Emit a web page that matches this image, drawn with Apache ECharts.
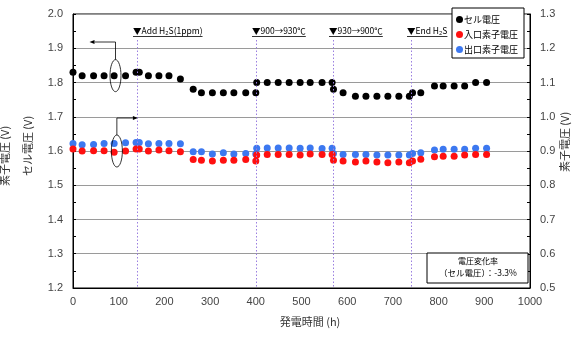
<!DOCTYPE html>
<html><head><meta charset="utf-8">
<script src="https://cdn.jsdelivr.net/npm/echarts@6/dist/echarts.min.js"></script>
<style>html,body{margin:0;padding:0;background:#fff}#c{width:572px;height:344px}</style>
</head><body><div id="c"></div>
<script>
// ---- data ----
const hours = [0,20,45,68,90,115,138,145,165,188,210,235,
  263,281,305,329,352,378,400,
  402,425,449,473,497,519,545,567,
  570,591,618,641,665,689,713,736,
  743,761,
  791,810,834,857,881,905];
const cellV = [1.83,1.82,1.82,1.82,1.82,1.82,1.83,1.83,1.82,1.82,1.82,1.81,
  1.78,1.77,1.77,1.77,1.77,1.77,1.77,
  1.80,1.80,1.80,1.80,1.80,1.80,1.80,1.80,
  1.78,1.77,1.76,1.76,1.76,1.76,1.76,1.76,
  1.77,1.77,
  1.79,1.79,1.79,1.79,1.80,1.80];
const outletV = [0.922,0.918,0.919,0.922,0.922,0.924,0.925,0.925,0.921,0.922,0.922,0.921,
  0.898,0.898,0.891,0.895,0.891,0.893,0.891,
  0.908,0.909,0.909,0.909,0.908,0.909,0.907,0.908,
  0.893,0.890,0.890,0.890,0.888,0.888,0.888,0.888,
  0.893,0.895,
  0.903,0.905,0.905,0.905,0.908,0.908];
const inletV = [0.906,0.900,0.901,0.901,0.896,0.900,0.906,0.906,0.900,0.903,0.901,0.898,
  0.875,0.873,0.871,0.873,0.873,0.875,0.871,
  0.888,0.890,0.890,0.890,0.888,0.891,0.890,0.890,
  0.873,0.871,0.868,0.871,0.868,0.866,0.868,0.866,
  0.871,0.876,
  0.883,0.885,0.885,0.888,0.890,0.890];
const seriesNames = ['セル電圧','入口素子電圧','出口素子電圧'];
const markerHours = [140,400,570,740];
const markerLabels = ['▼Add H₂S(1ppm)','▼900→930℃','▼930→900℃','▼End H₂S'];
const xRange = [0,1000,100];
const leftRange = [1.2,2.0,0.1];
const rightRange = [0.5,1.3,0.1];
const noteLines = ['電圧変化率','（セル電圧）：-3.3%'];

const CJK = '"Noto Sans CJK JP", sans-serif';
const NUM = '"Liberation Sans", Arial, sans-serif';
const chart = echarts.init(document.getElementById('c'), null, {renderer:'canvas'});

const yAxisCommon = {
  type:'value', interval:0.1,
  axisLine:{show:true, lineStyle:{color:'#000', width:1}},
  axisTick:{show:true, inside:true, length:3, lineStyle:{color:'#000'}},
  minorTick:{show:true, splitNumber:2, length:3, lineStyle:{color:'#000'}},
  axisLabel:{color:'#444', fontSize:11, fontFamily:NUM, margin:10, formatter:v=>v.toFixed(1)},
};
const dotStyle = c=>({color:c, opacity:1});
chart.setOption({
  animation:false,
  backgroundColor:'#fff',
  grid:{left:73, right:42, top:14, bottom:56, show:true, borderColor:'#000', borderWidth:1, containLabel:false},
  legend:{
    data:seriesNames, orient:'vertical', left:452, top:8,
    backgroundColor:'#fff', borderColor:'#000', borderWidth:1, padding:[4,6,1,4],
    itemGap:0, itemWidth:7, itemHeight:7, icon:'circle',
    textStyle:{fontSize:9, fontFamily:CJK, color:'#000', lineHeight:15, padding:[0,0,0,-4]},
    z:10
  },
  xAxis:{type:'value', min:xRange[0], max:xRange[1], interval:xRange[2],
    axisLine:{show:true, lineStyle:{color:'#000'}}, axisTick:{show:false},
    splitLine:{show:false},
    axisLabel:{color:'#444', fontSize:11, fontFamily:NUM, margin:8, formatter:v=>v.toFixed(0), showMaxLabel:false}},
  yAxis:[
    Object.assign({}, yAxisCommon, {min:leftRange[0], max:leftRange[1], position:'left',
      splitLine:{show:true, lineStyle:{color:'#9a9a9a', width:1}}}),
    Object.assign({}, yAxisCommon, {min:rightRange[0], max:rightRange[1], position:'right',
      splitLine:{show:false}})
  ],
  series:[
    {name:seriesNames[0], type:'scatter', yAxisIndex:0, symbolSize:7, itemStyle:dotStyle('#000'),
     data:hours.map((h,i)=>[h,cellV[i]])},
    {name:seriesNames[2], type:'scatter', yAxisIndex:1, symbolSize:7, itemStyle:dotStyle('#3c78f0'),
     data:hours.map((h,i)=>[h,outletV[i]])},
    {name:seriesNames[1], type:'scatter', yAxisIndex:1, symbolSize:7, itemStyle:dotStyle('#ff1010'),
     data:hours.map((h,i)=>[h,inletV[i]])}
  ]
});

// ---- annotations positioned through the axes ----
const px = (x,y,a)=>chart.convertToPixel({xAxisIndex:0, yAxisIndex:a}, [x,y]);
const ctx = document.createElement('canvas').getContext('2d');
const annFont = '8.5px ' + CJK;
ctx.font = annFont;
const plotTop = px(0,leftRange[1],0)[1];
const plotBottom = px(0,leftRange[0],0)[1];
const plotRight = px(xRange[1],leftRange[0],0)[0];
const g = [];
// last x tick label (drawn here so it is not dropped by overlap handling)
g.push({type:'text', x:plotRight, y:plotBottom+8, style:{text:String(xRange[1]), font:'11px '+NUM, fill:'#444', textAlign:'center', align:'center', textVerticalAlign:'top', verticalAlign:'top'}, z:20});
markerHours.forEach((h,i)=>{
  const lx = Math.round(px(h,leftRange[1],0)[0]) + 0.5;
  g.push({type:'line', shape:{x1:lx, y1:px(h,1.924,0)[1], x2:lx, y2:plotBottom}, style:{stroke:'#9a7ee0', lineWidth:1, lineDash:[1.5,2]}, z:5, silent:true});
  const x = lx - 4.5;
  const w = ctx.measureText(markerLabels[i]).width;
  g.push({type:'text', x:x, y:plotTop+17, style:{text:markerLabels[i], font:annFont, fill:'#000', textVerticalAlign:'middle', verticalAlign:'middle'}, z:20});
  g.push({type:'line', shape:{x1:x, y1:plotTop+22.5, x2:x+w, y2:plotTop+22.5}, style:{stroke:'#000', lineWidth:0.8}, z:20});
});
// ellipse + arrow to left axis
const e1 = px(93,1.82,0);
g.push({type:'ellipse', shape:{cx:e1[0], cy:e1[1], rx:5.5, ry:16}, style:{fill:'none', stroke:'#000', lineWidth:0.8}, z:20});
g.push({type:'polyline', shape:{points:[[e1[0],e1[1]-16],[e1[0],plotTop+28],[e1[0]-21,plotTop+28]]}, style:{fill:'none', stroke:'#000', lineWidth:0.8}, z:20});
g.push({type:'polygon', shape:{points:[[e1[0]-26,plotTop+28],[e1[0]-21,plotTop+26],[e1[0]-21,plotTop+30]]}, style:{fill:'#000'}, z:20});
// ellipse + arrow to right axis
const e2 = px(96,0.90,1);
g.push({type:'ellipse', shape:{cx:e2[0], cy:e2[1], rx:5.5, ry:16}, style:{fill:'none', stroke:'#000', lineWidth:0.8}, z:20});
g.push({type:'polyline', shape:{points:[[e2[0],e2[1]-16],[e2[0],e2[1]-33],[e2[0]+16,e2[1]-33]]}, style:{fill:'none', stroke:'#000', lineWidth:0.8}, z:20});
g.push({type:'polygon', shape:{points:[[e2[0]+21,e2[1]-33],[e2[0]+16,e2[1]-35],[e2[0]+16,e2[1]-31]]}, style:{fill:'#000'}, z:20});
// note box
g.push({type:'rect', shape:{x:plotRight-103, y:plotBottom-35, width:101, height:30}, style:{fill:'#fff', stroke:'#000', lineWidth:1}, z:20});
g.push({type:'text', x:plotRight-52, y:plotBottom-27, style:{text:noteLines[0], font:'8px '+CJK, fill:'#000', textAlign:'center', align:'center', textVerticalAlign:'middle', verticalAlign:'middle'}, z:21});
g.push({type:'text', x:plotRight-52, y:plotBottom-15, style:{text:noteLines[1], font:'8.5px '+CJK, fill:'#000', textAlign:'center', align:'center', textVerticalAlign:'middle', verticalAlign:'middle'}, z:21});
// axis titles
const titleStyle = t=>({text:t, font:'11px '+CJK, fill:'#333', textAlign:'center', align:'center', textVerticalAlign:'middle', verticalAlign:'middle'});
g.push({type:'text', x:5, y:156, rotation:Math.PI/2, style:titleStyle('素子電圧 (V)'), z:20});
g.push({type:'text', x:27.5, y:146, rotation:Math.PI/2, style:titleStyle('セル電圧 (V)'), z:20});
g.push({type:'text', x:565, y:142, rotation:Math.PI/2, style:titleStyle('素子電圧 (V)'), z:20});
g.push({type:'text', x:310, y:322, style:titleStyle('発電時間 (h)'), z:20});
chart.setOption({graphic:g});
</script></body></html>
